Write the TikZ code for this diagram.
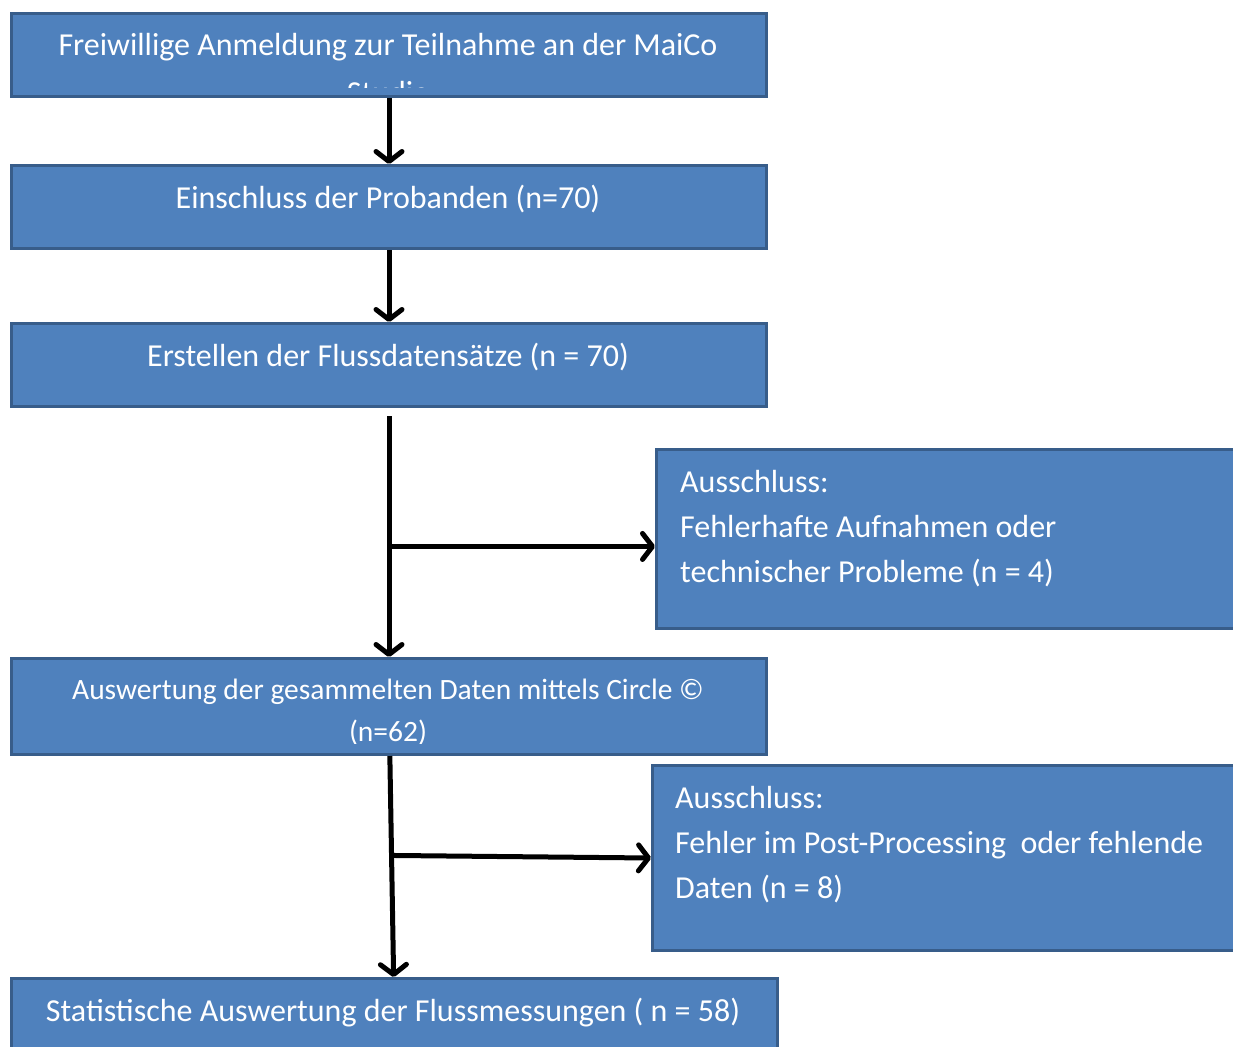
\documentclass[tikz,border=0pt]{standalone}
\usepackage{fontspec}
\setmainfont{Carlito}
\usetikzlibrary{calc,arrows.meta}
\definecolor{boxfill}{HTML}{4F81BD}
\definecolor{boxline}{HTML}{385D8A}

\begin{document}
\begin{tikzpicture}[x=1pt,y=-1pt,
  box/.style={draw=boxline, fill=boxfill, line width=3pt, anchor=north west, inner sep=0pt},
  txt/.style={text=white, font=\fontsize{32}{45}\selectfont, anchor=base, inner sep=0pt},
  smalltxt/.style={txt, font=\fontsize{29.5}{41}\selectfont},
  flow/.style={line width=5pt, -{Straight Barb[length=10pt,width=26pt,round]}}]
  \useasboundingbox (0,0) rectangle (1233,1046);

  % Main boxes
  \node[box, minimum width=755pt, minimum height=83pt] (anm) at (10,12) {};
  \node[box, minimum width=755pt, minimum height=83pt] (einschl) at (10,164) {};
  \node[box, minimum width=755pt, minimum height=83pt] (erst) at (10,322) {};
  \node[box, minimum width=755pt, minimum height=96pt] (ausw) at (10,657) {};
  \node[box, minimum width=766pt, minimum height=100pt] (stat) at (10,977) {};

  % Exclusion boxes
  \node[box, minimum width=620pt, minimum height=179pt] (aus1) at (655,448) {};
  \node[box, minimum width=620pt, minimum height=185pt] (aus2) at (651,764) {};

  % Texts
  \begin{scope}
    \clip (anm.north west) rectangle ($(anm.south east)+(0,-10)$);
    \node[txt] (anmtxt) at (388,56) {Freiwillige Anmeldung zur Teilnahme an der MaiCo};
    \node[txt] (anmtxtb) at (388,104) {Studie};
  \end{scope}
  \node[txt] (einschltxt) at (388,208) {Einschluss der Probanden (n=70)};
  \node[txt] (ersttxt) at (388,366) {Erstellen der Flussdatensätze (n = 70)};
  \begin{scope}
    \clip (ausw.north west) rectangle ($(ausw.south east)+(0,-13)$);
    \node[smalltxt] (auswtxt) at (388,699) {Auswertung der gesammelten Daten mittels Circle ©};
    \node[smalltxt] (auswtxtb) at (388,741) {(n=62)};
  \end{scope}
  \node[txt] (stattxt) at (393,1021) {Statistische Auswertung der Flussmessungen ( n = 58)};
  \node[txt, align=left, anchor=north west] (aus1txt) at (680,470)
    {Ausschluss:\\Fehlerhafte Aufnahmen oder\\technischer Probleme (n = 4)};
  \node[txt, align=left, anchor=north west] (aus2txt) at (675,786)
    {Ausschluss:\\Fehler im Post-Processing ~oder fehlende\\Daten (n = 8)};

  % Arrows
  \draw[flow] (anm) -- (einschl);
  \draw[flow] (einschl) -- (erst);
  \draw[flow, shorten <=8pt] (erst) -- (ausw);
  \coordinate (br1) at ($(erst.south)!0.556!(ausw.north)$);
  \draw[flow] (br1) -- (br1 -| aus1.west);
  \draw[flow] (ausw) -- (stat);
  \coordinate (br2) at ($(ausw.south)!0.45!(stat.north)$);
  \draw[flow] (br2) -- (aus2.west);
\end{tikzpicture}
\end{document}
